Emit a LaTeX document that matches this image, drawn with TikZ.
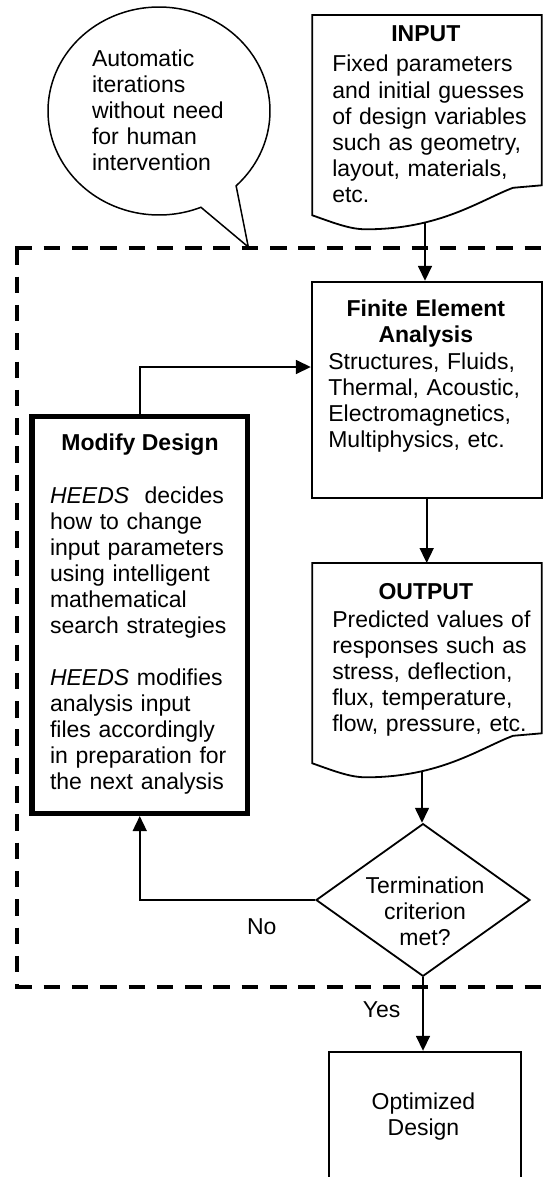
\documentclass[tikz,border=0pt]{standalone}
\usepackage{fontspec}
\setmainfont{Liberation Sans}
\usetikzlibrary{shapes.geometric,arrows.meta,calc}

\tikzset{
  txt/.style={font=\fontsize{23}{26.05}\selectfont, inner sep=0pt, outer sep=0pt},
  bodytxt/.style={txt, anchor=base west, align=left, text width=#1},
  headtxt/.style={txt, anchor=base, font=\fontsize{23}{26.05}\selectfont\bfseries},
  ctrtxt/.style={txt, anchor=base, align=center, text width=#1},
  boxline/.style={draw=black, line width=1.8pt},
  conn/.style={draw=black, line width=1.6pt, -{Triangle[length=15pt,width=14pt]}},
  dashframe/.style={draw=black, line width=4pt, dash pattern=on 16.5pt off 11.8pt},
}

\begin{document}
\begin{tikzpicture}[x=1pt,y=-1pt]
\useasboundingbox (0,0) rectangle (549,1177);
\clip (0,0) rectangle (549,1177);
\fill[white] (0,0) rectangle (549,1177);

% dashed iteration frame
\draw[dashframe] (15.3,248.3) -- (560,248.3);
\draw[dashframe] (17.3,248.3) -- (17.3,987.3);
\draw[dashframe] (15.3,987.3) -- (560,987.3);

% speech bubble
\draw[fill=white, line width=1.5pt, line join=miter]
  plot[domain=-46:292.2, samples=150] ({159+111*cos(\x)},{111-104*sin(\x)})
  -- (248.3,247) -- cycle;
\node[bodytxt=160pt] (bubtxt) at (92,66.5)
  {Automatic\\iterations\\without need\\for human\\intervention};

% INPUT document shape
\draw[boxline, fill=white, line join=miter]
  (312.3,215.3) -- (312.3,15) -- (541.7,15) -- (541.7,185.3) -- (513,187.8)
  .. controls (480,200.3) and (440,229.3) .. (366,229.3)
  .. controls (350,229.3) and (335,223.3) .. cycle;
\node[minimum width=229.4pt, minimum height=200pt, inner sep=0pt, outer sep=0pt, anchor=north west] (inbox) at (312.3,15) {};
\coordinate (inbot) at (425,222.5);
\node[headtxt] (inhead) at (425.8,41.3) {INPUT};
\node[bodytxt=210pt] (inbody) at (332.3,72)
  {Fixed parameters\\and initial guesses\\of design variables\\such as geometry,\\layout, materials,\\etc.};

% FEA box
\node[boxline, rectangle, minimum width=230pt, minimum height=216.6pt, inner sep=0pt, fill=white] (fea) at (426.7,390) {};
\node[headtxt, text width=220pt, align=center] (feahead) at (425.8,316.5) {Finite Element\\Analysis};
\node[bodytxt=210pt] (feabody) at (328.3,369.5)
  {Structures, Fluids,\\Thermal, Acoustic,\\Electromagnetics,\\Multiphysics, etc.};
\coordinate (feain) at (310.8,367);

% OUTPUT document shape
\draw[boxline, fill=white, line join=miter]
  (312.3,763.3) -- (312.3,563) -- (541.7,563) -- (541.7,733.3) -- (513,735.8)
  .. controls (480,748.3) and (440,777.3) .. (366,777.3)
  .. controls (350,777.3) and (335,771.3) .. cycle;
\node[minimum width=229.4pt, minimum height=200pt, inner sep=0pt, outer sep=0.9pt, anchor=north west] (outbox) at (312.3,563) {};
\coordinate (outbot) at (422,770.5);
\node[headtxt] (outhead) at (425.8,599.6) {OUTPUT};
\node[bodytxt=210pt] (outbody) at (332.3,627.5)
  {Predicted values of\\responses such as\\stress, deflection,\\flux, temperature,\\flow, pressure, etc.};

% Modify Design box
\node[draw=black, line width=5.5pt, rectangle, minimum width=215.5pt, minimum height=397pt, inner sep=0pt, fill=white] (mod) at (139.75,614.8) {};
\node[headtxt] (modhead) at (140,450.9) {Modify Design};
\node[bodytxt=190pt] (modbody) at (50,503)
  {\textit{HEEDS}\ \ decides\\how to change\\input parameters\\using intelligent\\mathematical\\search strategies\\[26.05pt]\textit{HEEDS} modifies\\analysis input\\files accordingly\\in preparation for\\the next analysis};

% decision diamond
\node[boxline, diamond, minimum width=214pt, minimum height=152.7pt, inner sep=0pt, fill=white] (dia) at (423,900) {};
\node[ctrtxt=150pt] (diatxt) at (425,893.5) {Termination\\criterion\\met?};

% Optimized design box
\node[boxline, rectangle, minimum width=191.7pt, minimum height=128.3pt, inner sep=0pt, fill=white] (opt) at (424.85,1115.85) {};
\node[ctrtxt=150pt] (opttxt) at (423.5,1109) {Optimized\\Design};

% connectors
\draw[conn] (inbot) -- (inbot |- fea.north);
\draw[conn] (fea.south) -- (fea.south |- outbox.north);
\draw[conn] (outbot) -- (outbot |- dia.north);
\draw[conn] (dia.south) -- (dia.south |- opt.north);
\draw[conn] (dia.west) -| (mod.south);
\draw[conn] (mod.north) |- (feain);

% labels
\node[txt, anchor=base] (nolbl) at (261.7,934.5) {No};
\node[txt, anchor=base] (yeslbl) at (381.7,1017) {Yes};
\end{tikzpicture}
\end{document}
